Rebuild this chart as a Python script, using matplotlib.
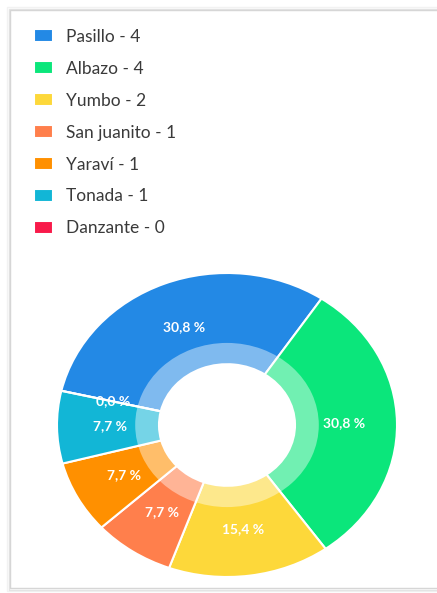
import matplotlib.pyplot as plt
import matplotlib.patches as mpatches

plt.rcParams['font.family'] = ['Lato', 'DejaVu Sans']

# Data
genres = ['Pasillo', 'Albazo', 'Yumbo', 'San juanito', 'Yaraví', 'Tonada', 'Danzante']
counts = [4, 4, 2, 1, 1, 1, 0]
colors = ['#2389e5', '#0be67b', '#fdd83a', '#ff7f4c', '#ff9000', '#12b6d6', '#f81a4a']

labels = [f'{g} - {c}' for g, c in zip(genres, counts)]


def fmt_pct(p):
    return f'{p:.1f} %'.replace('.', ',')


fig = plt.figure(figsize=(4.37, 5.93), dpi=100)

# card outline with a soft shadow
for off, col in [(3, '#f2f2f2'), (1.5, '#e4e4e4'), (0, '#d6d6d6')]:
    fig.patches.append(mpatches.Rectangle(
        ((10 - off) / 437, (5 - off) / 593), 1.2, (578 + 2 * off) / 593,
        transform=fig.transFigure, fill=False, edgecolor=col, linewidth=1.0))

ax = fig.add_axes([57 / 437, 16 / 593, 340 / 437, 304 / 593])

wedges, texts, autotexts = ax.pie(
    counts, colors=colors, radius=1.0, startangle=167, counterclock=False,
    wedgeprops=dict(width=0.6, edgecolor='white', linewidth=1.5),
    autopct=fmt_pct, pctdistance=0.69,
    textprops=dict(color='white', fontsize=10, fontweight='bold'))

# lighter inner ring (semi-transparent white band)
ax.add_patch(mpatches.Wedge((0, 0), 0.54, 0, 360, width=0.14,
                            facecolor='white', alpha=0.42, edgecolor='none'))

ax.set_aspect('auto')
ax.set_xlim(-1, 1)
ax.set_ylim(-1, 1)
ax.axis('off')

fig.legend(wedges, labels, loc='upper left',
           bbox_to_anchor=(18 / 437, 1 - 13 / 593), frameon=False,
           fontsize=12.5, labelcolor='#3a3a3a', handlelength=1.1,
           handleheight=0.8, handletextpad=0.75, labelspacing=0.92)

plt.savefig('out.png', dpi=100)
